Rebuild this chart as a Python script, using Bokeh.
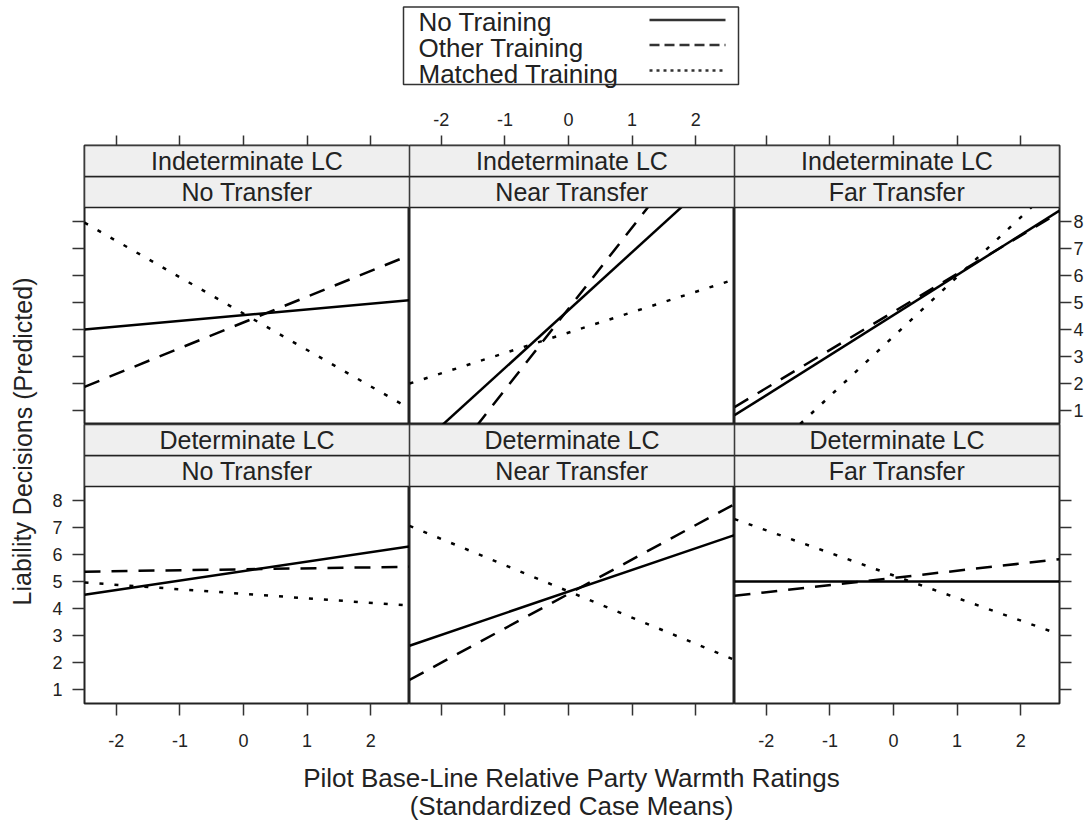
from bokeh.plotting import figure
from bokeh.models import Range1d, LinearAxis, FixedTicker
from bokeh.layouts import row, column
from bokeh.embed import file_html
from bokeh.resources import INLINE
from bokeh.core.properties import value

# ---------------- data ----------------
conditions = ["Indeterminate LC", "Indeterminate LC", "Indeterminate LC",
              "Determinate LC", "Determinate LC", "Determinate LC"]
transfers = ["No Transfer", "Near Transfer", "Far Transfer",
             "No Transfer", "Near Transfer", "Far Transfer"]
series_names = ["No Training", "Other Training", "Matched Training"]

# predicted lines: value at the left end and right end of the x range
x_ends = [-2.5, 2.61]
no_training_start = [4.00, -0.62, 0.84, 4.51, 2.63, 5.00]
no_training_end = [5.08, 10.29, 8.39, 6.29, 6.71, 5.00]
other_training_start = [1.89, -2.71, 1.14, 5.36, 1.37, 4.47]
other_training_end = [6.74, 12.58, 8.32, 5.54, 7.85, 5.82]
matched_training_start = [7.94, 2.01, -1.75, 4.96, 7.05, 7.30]
matched_training_end = [1.09, 5.85, 9.48, 4.11, 2.11, 3.05]

x_ticks = [-2, -1, 0, 1, 2]
y_ticks = [1, 2, 3, 4, 5, 6, 7, 8]

x_title_1 = "Pilot Base-Line Relative Party Warmth Ratings"
x_title_2 = "(Standardized Case Means)"
y_title = "Liability Decisions (Predicted)"

# ---------------- styling / geometry ----------------
FONT = "Liberation Sans"
TXT = "#222222"
XR = (-2.5, 2.61)
YMIN, YMAX = 0.5, 8.5
STRIP = 1.143              # one strip height in y units (~31 px)
YTOP = YMAX + 2 * STRIP
FW, FH = 325, 279
HDR = 105
TOPB, BOTB = 40, 57
LEFTB, RIGHTB = 40, 33
YT_W = 44
FOOT = 823 - HDR - (TOPB + FH) - (FH + BOTB)

styles = [("solid", "black"), ("16 11", "black"), ("4 11", "black")]
starts = [no_training_start, other_training_start, matched_training_start]
ends = [no_training_end, other_training_end, matched_training_end]


def add_axis(p, side, labels, tick_out, standoff):
    ticks = x_ticks if side in ("above", "below") else y_ticks
    ax = LinearAxis(ticker=FixedTicker(ticks=ticks), axis_line_color=None,
                    major_tick_in=0, major_tick_out=tick_out,
                    major_tick_line_color="#333333", major_tick_line_width=1.5,
                    minor_tick_line_color=None,
                    major_label_text_font=FONT, major_label_text_font_size="18px",
                    major_label_text_color=TXT, major_label_standoff=standoff)
    if labels:
        ax.major_label_overrides = {t: str(t) for t in ticks}
    else:
        ax.major_label_overrides = {t: "" for t in ticks}
    p.add_layout(ax, side)


def make_panel(i, bl, br, bt, bb, axes):
    p = figure(width=bl + FW + br, height=bt + FH + bb,
               x_range=Range1d(*XR), y_range=Range1d(YMIN, YTOP),
               x_axis_location=None, y_axis_location=None,
               toolbar_location=None, output_backend="svg",
               min_border_left=bl, min_border_right=br,
               min_border_top=bt, min_border_bottom=bb)
    p.xgrid.visible = False
    p.ygrid.visible = False
    p.outline_line_color = "#222222"
    p.outline_line_width = 2
    p.background_fill_color = "white"
    p.border_fill_color = "white"
    for (dash, col), s, e in zip(styles, starts, ends):
        p.line(x=x_ends, y=[s[i], e[i]], line_color=col, line_width=2.5,
               line_dash=dash)
    # strips (drawn after the lines so they cover anything above the panel)
    p.quad(left=[XR[0], XR[0]], right=[XR[1], XR[1]],
           bottom=[YMAX, YMAX + STRIP], top=[YMAX + STRIP, YTOP],
           fill_color="#efefef", line_color="#222222", line_width=1.5)
    xc = (XR[0] + XR[1]) / 2
    p.text(x=[xc, xc], y=[YMAX + STRIP / 2, YMAX + 1.5 * STRIP],
           text=[transfers[i], conditions[i]],
           text_align="center", text_baseline="middle",
           text_font=value(FONT), text_font_size="25px", text_color=TXT)
    for side, labels, tick_out, standoff in axes:
        add_axis(p, side, labels, tick_out, standoff)
    return p


p11 = make_panel(0, LEFTB, 0, TOPB, 0, [("left", False, 12, 11), ("above", False, 10, 10)])
p12 = make_panel(1, 0, 0, TOPB, 0, [("above", True, 10, 10)])
p13 = make_panel(2, 0, RIGHTB, TOPB, 0, [("right", True, 12, 2), ("above", False, 10, 10)])
p21 = make_panel(3, LEFTB, 0, 0, BOTB, [("left", True, 12, 10), ("below", True, 12, 18)])
p22 = make_panel(4, 0, 0, 0, BOTB, [("below", False, 12, 18)])
p23 = make_panel(5, 0, RIGHTB, 0, BOTB, [("right", False, 12, 2), ("below", True, 12, 18)])


def blank(w, h):
    f = figure(width=w, height=h, x_range=Range1d(0, w), y_range=Range1d(h, 0),
               x_axis_location=None, y_axis_location=None,
               toolbar_location=None, output_backend="svg", min_border=0,
               outline_line_color=None)
    f.xgrid.visible = False
    f.ygrid.visible = False
    return f


# header with the key
hdr = blank(1092, HDR)
hdr.quad(left=[403], right=[738], top=[6.5], bottom=[84], fill_color="white",
         line_color="#333333", line_width=1.5)
key_y_text = [21, 47.5, 73]
key_y_line = [19.5, 44.5, 70]
key_dash = ["solid", "10 5", "3 4"]
hdr.text(x=[418] * 3, y=key_y_text, text=series_names, text_align="left",
         text_baseline="middle", text_font=value(FONT),
         text_font_size="26px", text_color=TXT)
for yy, d in zip(key_y_line, key_dash):
    hdr.line(x=[649, 725], y=[yy, yy], line_color="#333333", line_width=2.5,
             line_dash=d)

# y title
ytf = blank(YT_W, TOPB + FH + FH + BOTB)
ytf.text(x=[22], y=[441 - HDR], text=[y_title], angle=1.5707963, text_align="center",
         text_baseline="middle", text_font=value(FONT), text_font_size="25px",
         text_color=TXT)

# footer with x title
ft = blank(1092, FOOT)
ft.text(x=[571, 571], y=[777 - 760, 805 - 760], text=[x_title_1, x_title_2],
        text_align="center", text_baseline="middle", text_font=value(FONT),
        text_font_size="26px", text_color=TXT)

grid = column(row(p11, p12, p13, spacing=0), row(p21, p22, p23, spacing=0), spacing=0)
layout = column(hdr, row(ytf, grid, spacing=0), ft, spacing=0)

open("out.html", "w").write(file_html(layout, INLINE))
